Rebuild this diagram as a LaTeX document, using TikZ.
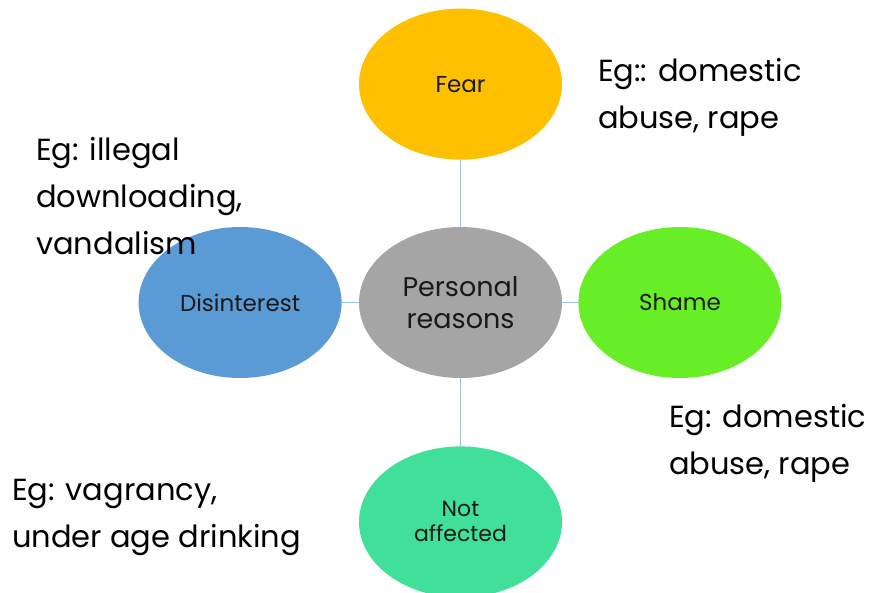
\documentclass[tikz,border=0pt]{standalone}
\usepackage{fontspec}
\setmainfont{Poppins}
\usetikzlibrary{shapes.geometric,positioning}
\definecolor{fearc}{RGB}{255,192,0}
\definecolor{shamec}{RGB}{104,238,38}
\definecolor{disc}{RGB}{91,155,213}
\definecolor{persc}{RGB}{165,165,165}
\definecolor{notc}{RGB}{64,224,154}
\definecolor{linkc}{RGB}{157,195,230}

\begin{document}
\begin{tikzpicture}[x=1pt,y=-1pt,node distance=17pt]
\tikzset{bub/.style={ellipse,inner sep=0pt,minimum width=203pt,minimum height=151pt,align=center,text=black!90,font=\fontsize{23}{26}\selectfont},
  link/.style={draw=linkc,line width=1.4pt},
  eg/.style={anchor=base west,inner sep=0pt,align=left,font=\fontsize{30.5}{47}\selectfont}}
\useasboundingbox (0,0) rectangle (870,592);
\node[bub,fill=persc,font=\fontsize{27}{32}\selectfont] (personal) at (460.5,302.5) {Personal\\reasons};
\node[bub,fill=fearc,above=67pt of personal] (fear) {Fear};
\node[bub,fill=shamec,right=16pt of personal] (shame) {Shame};
\node[bub,fill=disc,left=17pt of personal] (disint) {Disinterest};
\node[bub,fill=notc,below=68pt of personal,font=\fontsize{22}{25}\selectfont] (notaff) {Not\\affected};
\draw[link] (personal) -- (fear);
\draw[link] (personal) -- (shame);
\draw[link] (personal) -- (disint);
\draw[link] (personal) -- (notaff);
% examples beside each bubble (base = last line)
\node[eg] (egfear) at (598,128) {Eg:: domestic\\abuse, rape};
\node[eg] (egdis) at (36,254) {Eg: illegal\\downloading,\\vandalism};
\node[eg] (egshame) at (669,474) {Eg: domestic\\abuse, rape};
\node[eg] (egnot) at (12,547) {Eg: vagrancy,\\under age drinking};
\end{tikzpicture}
\end{document}
